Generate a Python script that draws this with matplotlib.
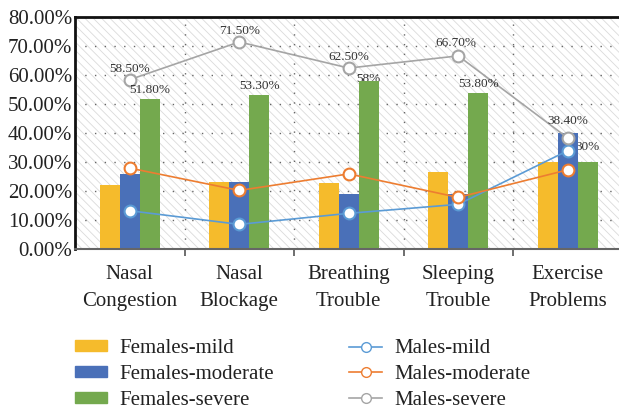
import numpy as np
import matplotlib
matplotlib.use("Agg")
import matplotlib.pyplot as plt
from matplotlib.patches import Rectangle
from matplotlib.lines import Line2D
from matplotlib.patches import Patch

plt.rcParams['font.family'] = ['Liberation Serif', 'DejaVu Serif']
plt.rcParams['hatch.color'] = '#dadada'
plt.rcParams['hatch.linewidth'] = 0.6

categories = ["Nasal\nCongestion", "Nasal\nBlockage", "Breathing\nTrouble",
              "Sleeping\nTrouble", "Exercise\nProblems"]
females_mild = [22.0, 23.2, 22.8, 26.7, 30.0]
females_moderate = [26.0, 23.1, 19.1, 19.0, 40.0]
females_severe = [51.8, 53.3, 58.0, 53.8, 30.0]
males_mild = [13.3, 8.6, 12.4, 15.5, 34.0]
males_moderate = [28.0, 20.3, 26.0, 17.9, 27.4]
males_severe = [58.5, 71.5, 62.5, 66.7, 38.4]
severe_labels = ["58.50%", "71.50%", "62.50%", "66.70%", "38.40%"]
green_labels = ["51.80%", "53.30%", "58%", "53.80%", "30%"]

c_fmild, c_fmod, c_fsev = '#F5BB2C', '#4A70B8', '#74A94E'
c_mmild, c_mmod, c_msev = '#5B9BD5', '#ED7D31', '#A5A5A5'

fig = plt.figure(figsize=(6.19, 4.11), dpi=100)
ax = fig.add_axes([75 / 619, 161.7 / 411, 1 - 75 / 619, 232 / 411])

x = np.arange(len(categories))
w = 0.183

# hatched background
ax.add_patch(Rectangle((0, 0), 1, 1, transform=ax.transAxes, facecolor='white',
                       hatch='\\\\\\\\', edgecolor='#dadada', linewidth=0, zorder=0))

ax.bar(x - w, females_mild, w, color=c_fmild, zorder=2, label='Females-mild')
ax.bar(x, females_moderate, w, color=c_fmod, zorder=2, label='Females-moderate')
ax.bar(x + w, females_severe, w, color=c_fsev, zorder=2, label='Females-severe')

mk = dict(marker='o', markersize=8.5, markerfacecolor='white', markeredgewidth=1.5,
          linewidth=1.2, zorder=4)
ax.plot(x, males_mild, color=c_mmild, **mk)
ax.plot(x, males_moderate, color=c_mmod, **mk)
ax.plot(x, males_severe, color=c_msev, **mk)

# data labels
sev_nudge = [8, 8, 8, 9, 12]
for i, (v, t) in enumerate(zip(males_severe, severe_labels)):
    ax.annotate(t, (x[i], v), xytext=(-1.5 if i == 3 else 0, sev_nudge[i]),
                textcoords='offset points', ha='center', va='center',
                fontsize=9.5, color='#333333', zorder=5)
green_nudge = [6.5, 6.5, 1.5, 6.5, 11]
for i, (v, t) in enumerate(zip(females_severe, green_labels)):
    ax.annotate(t, (x[i] + w, v), xytext=(0, green_nudge[i]),
                textcoords='offset points', ha='center', va='center',
                fontsize=9.5, color='#333333', zorder=1.5 if i in (2, 4) else 5)

ax.set_ylim(0, 80)
ax.set_xlim(-0.5, 4.5 - 3.5 / 109.5)
ax.set_yticks(np.arange(0, 81, 10))
ax.set_yticklabels([f"{v:.2f}%" for v in np.arange(0, 81, 10)], fontsize=15, color='#222222')
ax.set_xticks(x)
ax.set_xticklabels(categories, fontsize=15, color='#222222', linespacing=1.62)
ax.set_xticks(np.arange(0.5, 4.5, 1), minor=True)
ax.tick_params(axis='x', which='major', length=0, pad=11)
ax.tick_params(axis='x', which='minor', length=5, width=1.2, color='#555555', direction='out')
ax.tick_params(axis='y', length=0, pad=2)

dots = (0, (1, 6))
ax.grid(axis='y', which='major', color='#666666', linestyle=dots, linewidth=1, zorder=1)
ax.grid(axis='x', which='minor', color='#666666', linestyle=dots, linewidth=1, zorder=1)
ax.set_axisbelow(True)

ax.spines['top'].set_linewidth(2)
ax.spines['top'].set_color('#111111')
ax.spines['left'].set_linewidth(2)
ax.spines['left'].set_color('#111111')
ax.spines['bottom'].set_linewidth(1.5)
ax.spines['bottom'].set_color('#666666')
ax.spines['right'].set_visible(False)

handles = [
    Patch(color=c_fmild, label='Females-mild'),
    Line2D([], [], color=c_mmild, marker='o', markerfacecolor='white', markersize=7,
           linewidth=1.2, label='Males-mild'),
    Patch(color=c_fmod, label='Females-moderate'),
    Line2D([], [], color=c_mmod, marker='o', markerfacecolor='white', markersize=7,
           linewidth=1.2, label='Males-moderate'),
    Patch(color=c_fsev, label='Females-severe'),
    Line2D([], [], color=c_msev, marker='o', markerfacecolor='white', markersize=7,
           linewidth=1.2, label='Males-severe'),
]
# column-major order for ncol=2
order = [0, 2, 4, 1, 3, 5]
fig.legend([handles[i] for i in order], [handles[i].get_label() for i in order],
           ncol=2, loc='upper left', bbox_to_anchor=(75 / 619, 1 - 339 / 411),
           frameon=False, fontsize=15, handlelength=1.55, handleheight=0.42,
           handletextpad=0.6, columnspacing=3.6, labelspacing=0.33, borderpad=0,
           borderaxespad=0, labelcolor='#222222')

fig.savefig("out.png", dpi=100)
